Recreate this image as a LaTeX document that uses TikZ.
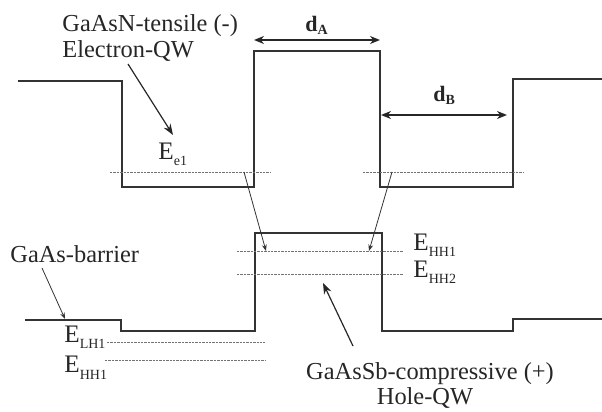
\documentclass[tikz,border=0pt]{standalone}
\usepackage{fontspec}
\setmainfont{Liberation Serif}
\usetikzlibrary{arrows.meta}
\newcommand{\lowsub}[1]{\raisebox{-3pt}{\fontsize{7}{8}\selectfont #1}}
\newcommand{\dsub}[1]{\raisebox{-1.5pt}{\fontsize{7}{8}\selectfont\bfseries #1}}
\begin{document}
\begin{tikzpicture}[x=0.5pt,y=-0.5pt,
  band/.style={line width=1.1pt, draw=black!80, line join=miter},
  level/.style={line width=0.45pt, draw=black!55, dash pattern=on 1.2pt off 0.5pt},
  lbl/.style={inner sep=0pt, text=black!85, font=\fontsize{12.2}{14}\selectfont},
  elbl/.style={inner sep=0pt, text=black!85, font=\fontsize{12.6}{14}\selectfont, anchor=base west},
  dlbl/.style={inner sep=0pt, text=black!85, font=\fontsize{11}{13}\selectfont\bfseries, anchor=base west},
  thinarr/.style={line width=0.4pt, draw=black!80, -{Stealth[length=3.2pt,width=2.4pt]}},
  bigarr/.style={line width=0.6pt, draw=black!85, -{Stealth[length=5.5pt,width=4pt]}},
  dimarr/.style={line width=1pt, draw=black!85, {Stealth[length=5pt,width=4pt]}-{Stealth[length=5pt,width=4pt]}},
]
\useasboundingbox (0,0) rectangle (602,412);

% conduction band
\draw[band] (18,81) -- (122,81) -- (122,187) -- (254,187) -- (254,51) -- (380,51)
  -- (380,187) -- (513,187) -- (513,79) -- (602,79);
% valence band
\draw[band] (25,320) -- (121,320) -- (121,331) -- (255,331) -- (255,233) -- (382,233)
  -- (382,331) -- (513,331) -- (513,319) -- (602,319);

% levels
\draw[level] (110,172) -- (271,172);
\draw[level] (363,172) -- (523,172);
\draw[level] (237,251) -- (403,251);
\draw[level] (237,274) -- (403,274);
\draw[level] (107,342) -- (265,342);
\draw[level] (105,360) -- (265,360);

% labels
\node[lbl, anchor=base west] (tensile) at (62,32) {GaAsN-tensile (-)};
\node[lbl, anchor=base west] (eqw) at (62,57) {Electron-QW};
\node[lbl, anchor=base west] (barrier) at (10,263) {GaAs-barrier};
\node[lbl, anchor=base] (sb) at (430,380) {GaAsSb-compressive (+)};
\node[lbl, anchor=base] (hqw) at (425,405) {Hole-QW};

\node[elbl] (ee1) at (158,160) {E\lowsub{e1}};
\node[elbl] (ehh1r) at (413,250) {E\lowsub{HH1}};
\node[elbl] (ehh2r) at (413,278) {E\lowsub{HH2}};
\node[elbl] (elh1) at (64,343) {E\lowsub{LH1}};
\node[elbl] (ehh1l) at (64,373) {E\lowsub{HH1}};

\node[dlbl] (da) at (305,32) {d\dsub{A}};
\node[dlbl] (db) at (433,102) {d\dsub{B}};

% coordinates for connectors
\coordinate (eqwS) at (128,64);
\coordinate (eqwT) at (173,135);
\coordinate (barS) at (42,268);
\coordinate (barT) at (65,319);
\coordinate (sbS) at (353,346);
\coordinate (sbT) at (323,283);
\coordinate (lS) at (244,172);
\coordinate (lT) at (266,251);
\coordinate (rS) at (392,172);
\coordinate (rT) at (369,251);
\coordinate (daL) at (254,40);
\coordinate (daR) at (380,40);
\coordinate (dbL) at (381,115);
\coordinate (dbR) at (507,115);

\draw[bigarr] (eqwS) -- (eqwT);
\draw[thinarr] (barS) -- (barT);
\draw[bigarr] (sbS) -- (sbT);
\draw[thinarr] (lS) -- (lT);
\draw[thinarr] (rS) -- (rT);
\draw[dimarr] (daL) -- (daR);
\draw[dimarr] (dbL) -- (dbR);
\end{tikzpicture}
\end{document}
